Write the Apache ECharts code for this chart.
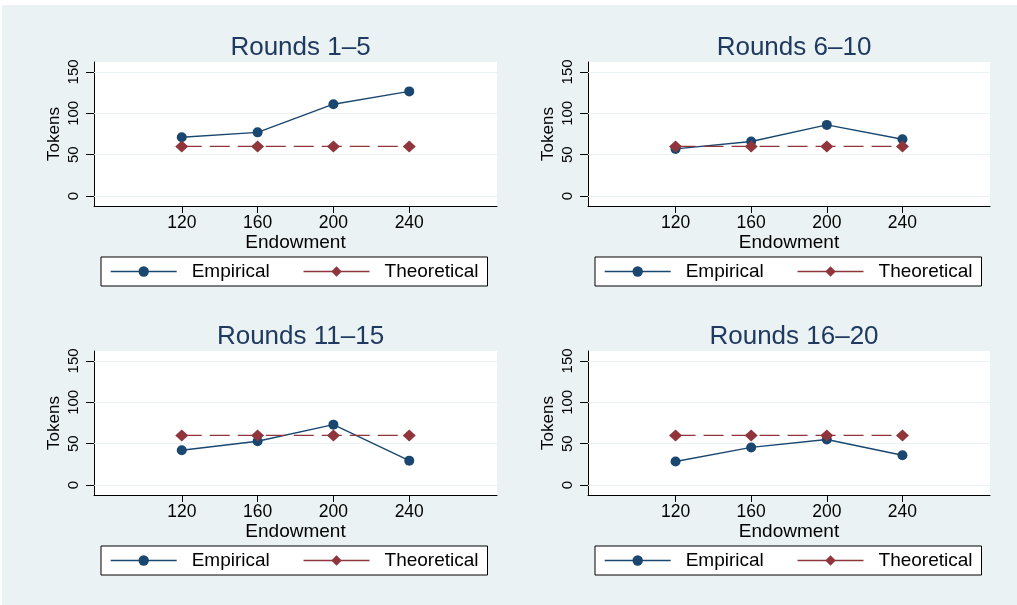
<!DOCTYPE html>
<html>
<head>
<meta charset="utf-8">
<script src="https://cdn.jsdelivr.net/npm/echarts@6/dist/echarts.min.js"></script>
<style>
html,body{margin:0;padding:0;background:#ffffff;}
#chart{width:1017px;height:605px;}
</style>
</head>
<body>
<div id="chart"></div>
<script>
// ---- data ----
const endowments = [120, 160, 200, 240];
const panelTitles = ['Rounds 1\u20135', 'Rounds 6\u201310', 'Rounds 11\u201315', 'Rounds 16\u201320'];
const empiricalR1_5 = [71, 77, 111, 126.5];
const empiricalR6_10 = [57, 66, 86, 68.7];
const empiricalR11_15 = [42, 53, 73, 29.5];
const empiricalR16_20 = [28.5, 45.5, 55, 36];
const theoretical = [60, 60, 60, 60];
const yTickValues = [0, 50, 100, 150];
const xTickValues = [120, 160, 200, 240];
const seriesNames = ['Empirical', 'Theoretical'];

const empiricalSets = [empiricalR1_5, empiricalR6_10, empiricalR11_15, empiricalR16_20];

// ---- layout ----
const boxes = [
  {left: 94, top: 62, width: 403, height: 144},
  {left: 588, top: 62, width: 402, height: 144},
  {left: 94, top: 351, width: 403, height: 144},
  {left: 588, top: 351, width: 402, height: 144}
];
const BG = '#eaf2f3';
const NAVY = '#1a476f';
const MAROON = '#90353b';
const FONT = 'Liberation Sans, Arial, Helvetica, sans-serif';

const chart = echarts.init(document.getElementById('chart'));

const grid = [], xAxis = [], yAxis = [], series = [], title = [], legend = [];

boxes.forEach((b, i) => {
  grid.push({left: b.left, top: b.top, width: b.width, height: b.height,
    show: true, backgroundColor: '#ffffff', borderWidth: 0, containLabel: false});
  title.push({
    text: panelTitles[i],
    left: b.left + b.width / 2, top: b.top - 32, textAlign: 'center',
    textStyle: {fontFamily: FONT, fontSize: 26, fontWeight: 'normal', color: '#1f3a60'}
  });
  xAxis.push({
    type: 'value', gridIndex: i, min: 73.7, max: 286.3,
    name: 'Endowment', nameLocation: 'middle', nameGap: 23,
    nameTextStyle: {fontFamily: FONT, fontSize: 19, color: '#000'},
    axisLine: {show: true, onZero: false, lineStyle: {color: '#000', width: 1}},
    axisTick: {show: true, length: 7, customValues: xTickValues, lineStyle: {color: '#000'}},
    axisLabel: {customValues: xTickValues, margin: 8, fontFamily: FONT, fontSize: 17.5, color: '#000'},
    splitLine: {show: false}
  });
  yAxis.push({
    type: 'value', gridIndex: i, min: -12, max: 162,
    name: 'Tokens', nameLocation: 'middle', nameGap: 31,
    nameTextStyle: {fontFamily: FONT, fontSize: 17, color: '#000'},
    axisLine: {show: true, onZero: false, lineStyle: {color: '#000', width: 1}},
    axisTick: {show: true, length: 8, customValues: yTickValues, lineStyle: {color: '#000'}},
    axisLabel: {customValues: yTickValues, rotate: 90, margin: 13, fontFamily: FONT, fontSize: 15, color: '#000'},
    splitLine: {show: false}
  });
  series.push({
    name: seriesNames[0], type: 'line', xAxisIndex: i, yAxisIndex: i,
    data: endowments.map((x, k) => [x, empiricalSets[i][k]]),
    symbol: 'circle', symbolSize: 10,
    lineStyle: {color: NAVY, width: 1.4},
    itemStyle: {color: NAVY},
    markLine: {
      silent: true, symbol: 'none', label: {show: false},
      lineStyle: {color: BG, width: 1.2, type: 'solid'},
      data: yTickValues.map(v => ({yAxis: v})),
      animation: false, z: 1
    },
    animation: false, z: 3
  });
  series.push({
    name: seriesNames[1], type: 'line', xAxisIndex: i, yAxisIndex: i,
    data: endowments.map((x, k) => [x, theoretical[k]]),
    symbol: 'diamond', symbolSize: [13, 12],
    lineStyle: {color: MAROON, width: 1.4, type: [20, 8]},
    itemStyle: {color: MAROON},
    animation: false, z: 4
  });
  const legTop = b.top + b.height + 51;
  legend.push({
    left: b.left + 7, top: legTop,
    orient: 'horizontal',
    data: seriesNames,
    itemWidth: 66, itemHeight: 13, itemGap: 33,
    padding: [5, 9, 5, 9],
    backgroundColor: '#ffffff', borderColor: '#000', borderWidth: 1, borderRadius: 0,
    lineStyle: {type: 'solid', width: 1.4},
    textStyle: {fontFamily: FONT, fontSize: 19, color: '#000', padding: [0, 0, 0, 10]},
    selectedMode: false
  });
});

chart.setOption({
  backgroundColor: BG,
  animation: false,
  title, grid, xAxis, yAxis, series, legend,
  graphic: [
    {type: 'rect', left: 0, top: 0, shape: {width: 1017, height: 5}, style: {fill: '#ffffff'}, silent: true},
    {type: 'rect', left: 0, top: 0, shape: {width: 2, height: 605}, style: {fill: '#ffffff'}, silent: true}
  ]
});
</script>
</body>
</html>
